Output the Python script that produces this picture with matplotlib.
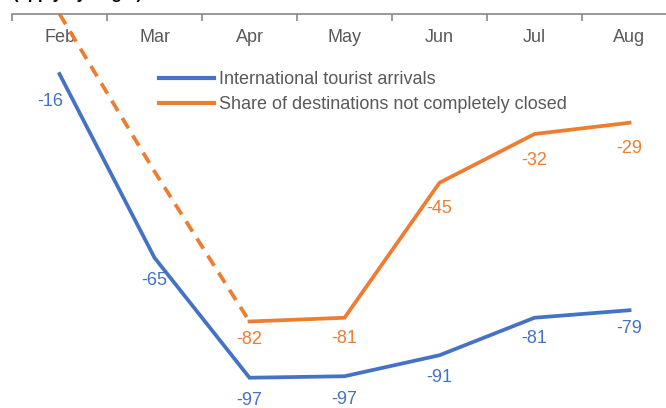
import matplotlib.pyplot as plt

plt.rcParams['font.family'] = ['Liberation Sans', 'DejaVu Sans']

# Data
months = ['Feb', 'Mar', 'Apr', 'May', 'Jun', 'Jul', 'Aug']
arrivals = [-16, -65, -97, -96.6, -91, -81, -79]
share_open = [0, -42, -82, -81, -45, -32, -29]

blue = '#4472C4'
orange = '#ED7D31'
grey = '#595959'

# label offsets below each point (pixels)
blue_dy = [28, 23, 23, 23, 22, 21, 18]
orange_dy = [0, 0, 18, 21, 26, 27, 26]

fig = plt.figure(figsize=(6.66, 4.08), dpi=100)
ax = fig.add_axes([12 / 666, 0, 654 / 666, 394 / 408])

x = list(range(len(months)))
px = 0.72  # points per pixel at 100 dpi

# blue series
ax.plot(x, arrivals, color=blue, lw=2.7, solid_joinstyle='miter',
        label='International tourist arrivals', clip_on=False)

# orange: dashed for Feb-Apr, solid afterwards
ax.plot(x[:3], share_open[:3], color=orange, lw=2.7, ls=(0, (3.2, 2.2)))
ax.plot(x[2:], share_open[2:], color=orange, lw=2.7, solid_joinstyle='miter',
        label='Share of destinations not completely closed')

# data labels
for i, v in enumerate(arrivals):
    dx = -9 if i == 0 else 0
    ax.annotate(str(round(v)), (i, v), xytext=(dx * px, -blue_dy[i] * px),
                textcoords='offset points', ha='center', va='center',
                color=blue, fontsize=13, annotation_clip=False)
for i, v in enumerate(share_open):
    if i < 2:
        continue
    ax.annotate(str(v), (i, v), xytext=(0, -orange_dy[i] * px),
                textcoords='offset points', ha='center', va='center',
                color=orange, fontsize=13)

# axis on top with ticks between categories
for s in ['right', 'bottom', 'left']:
    ax.spines[s].set_visible(False)
ax.spines['top'].set_color('#888888')
ax.spines['top'].set_linewidth(1.2)
ax.xaxis.tick_top()
ax.set_xticks([i + 0.5 for i in range(-1, 7)], minor=False)
ax.set_xticklabels([])
ax.tick_params(axis='x', which='major', direction='in', length=5,
               color='#888888', width=1.2)
ax.set_xticks(x, minor=True)
ax.set_xticklabels(months, minor=True)
ax.tick_params(axis='x', which='minor', length=0, pad=-23,
               labelsize=13, labelcolor=grey)
ax.set_yticks([])

ax.set_xlim(-0.5, 6.384)
ax.set_ylim(-105.07, 0)

leg = ax.legend(loc='upper left', bbox_to_anchor=(0.211, 0.878), frameon=False,
                fontsize=13, handlelength=3.05, handletextpad=0.28,
                labelspacing=0.45, labelcolor=grey, borderpad=0)
for h in leg.get_lines():
    h.set_linewidth(3)

# partially visible title above the chart
fig.text(0.02, 1.0 + 1 / 408, '(apply by origin)', ha='left', va='baseline',
         fontsize=12, fontweight='bold', color='black')

fig.savefig('out.png', dpi=100)
